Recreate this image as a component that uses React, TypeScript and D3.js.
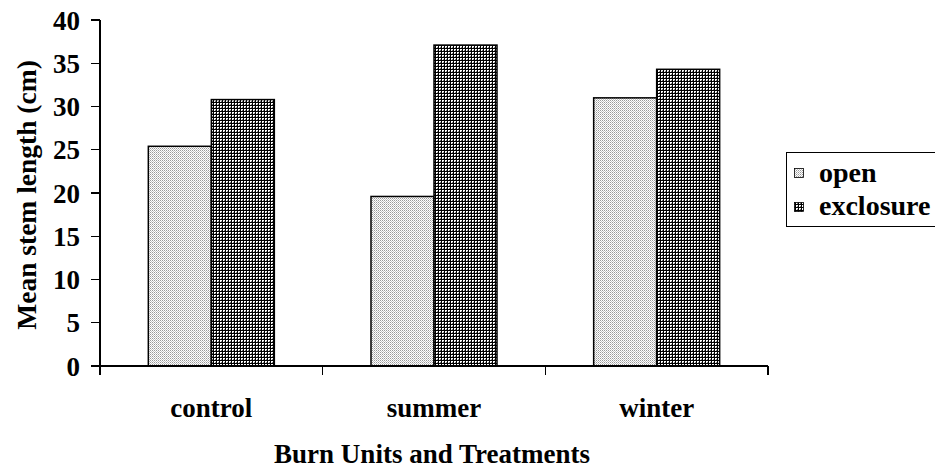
import React from "react";
import * as d3 from "d3";

const categories = ["control", "summer", "winter"];
const seriesNames = ["open", "exclosure"];
const openValues = [25.4, 19.6, 31.0];
const exclosureValues = [30.8, 37.1, 34.3];
const yTicks = [0, 5, 10, 15, 20, 25, 30, 35, 40];

const W = 935;
const H = 471;
const left = 100;
const right = 768;
const top = 20;
const bottom = 366;
const fontStyle: React.CSSProperties = {
  fontFamily: '"Liberation Serif", "Times New Roman", Times, serif',
  fontWeight: 700,
};

export default function App() {
  const x = d3.scaleBand<string>().domain(categories).range([left, right]).padding(0);
  const y = d3.scaleLinear().domain([0, 40]).range([bottom, top]);
  const barW = 63;
  const series = [openValues, exclosureValues];
  const fills = ["url(#patOpen)", "url(#patExcl)"];
  const bw = x.bandwidth();
  const offset = (bw - barW * 2) / 2;
  const boundaries = [left, ...categories.map((c) => (x(c) as number) + bw)];

  return (
    <svg width={W} height={H} style={{ position: "absolute", left: 0, top: 0 }}>
      <defs>
        <pattern id="patOpen" width="2" height="2" patternUnits="userSpaceOnUse">
          <rect width="2" height="2" fill="#ffffff" />
          <rect x="0" y="0" width="1" height="1" fill="#999999" />
          <rect x="1" y="1" width="1" height="1" fill="#c4c4c4" />
        </pattern>
        <pattern id="patExcl" width="3" height="3" patternUnits="userSpaceOnUse">
          <rect width="3" height="3" fill="#ffffff" shapeRendering="crispEdges" />
          <rect x="0" y="0" width="3" height="1" fill="#000000" shapeRendering="crispEdges" />
          <rect x="0" y="0" width="1" height="3" fill="#000000" shapeRendering="crispEdges" />
          <rect x="2" y="2" width="1" height="1" fill="#777777" shapeRendering="crispEdges" />
        </pattern>
      </defs>
      <rect width={W} height={H} fill="#ffffff" />
      {categories.map((c, i) =>
        series.map((vals, s) => (
          <rect
            key={c + s}
            x={(x(c) as number) + offset + s * barW}
            y={y(vals[i])}
            width={barW}
            height={bottom - y(vals[i])}
            fill={fills[s]}
            stroke="#000"
            strokeWidth={1.5}
          />
        ))
      )}
      {/* y axis */}
      <line x1={left} x2={left} y1={top} y2={bottom} stroke="#000" strokeWidth={1.2} shapeRendering="crispEdges" />
      {yTicks.map((t) => (
        <g key={t}>
          <line x1={left - 9} x2={left} y1={y(t)} y2={y(t)} stroke="#000" strokeWidth={1.2} shapeRendering="crispEdges" />
          <text x={80} y={y(t)} dy="0.36em" textAnchor="end" fontSize={27} style={fontStyle}>
            {t}
          </text>
        </g>
      ))}
      {/* x axis */}
      <line x1={left - 9} x2={right} y1={bottom} y2={bottom} stroke="#000" strokeWidth={1.2} shapeRendering="crispEdges" />
      {boundaries.map((b, i) => (
        <line key={i} x1={b} x2={b} y1={bottom} y2={bottom + 9} stroke="#000" strokeWidth={1.2} shapeRendering="crispEdges" />
      ))}
      {categories.map((c) => (
        <text key={c} x={(x(c) as number) + bw / 2} y={417} textAnchor="middle" fontSize={27} style={fontStyle}>
          {c}
        </text>
      ))}
      <text x={432} y={463} textAnchor="middle" fontSize={27} style={fontStyle}>
        Burn Units and Treatments
      </text>
      <text
        transform={`translate(36, ${(top + bottom) / 2 + 2}) rotate(-90)`}
        textAnchor="middle"
        fontSize={27.5}
        style={fontStyle}
      >
        Mean stem length (cm)
      </text>
      {/* legend */}
      <rect x={786.5} y={152.5} width={170} height={74} fill="#fff" stroke="#000" strokeWidth={1} />
      {seriesNames.map((n, i) => (
        <g key={n}>
          <rect x={794.5} y={168.5 + i * 34} width={9} height={9} fill={fills[i]} stroke="#000" strokeWidth={0.8} />
          <text x={819} y={182 + i * 33} fontSize={28} style={fontStyle}>
            {n}
          </text>
        </g>
      ))}
    </svg>
  );
}
